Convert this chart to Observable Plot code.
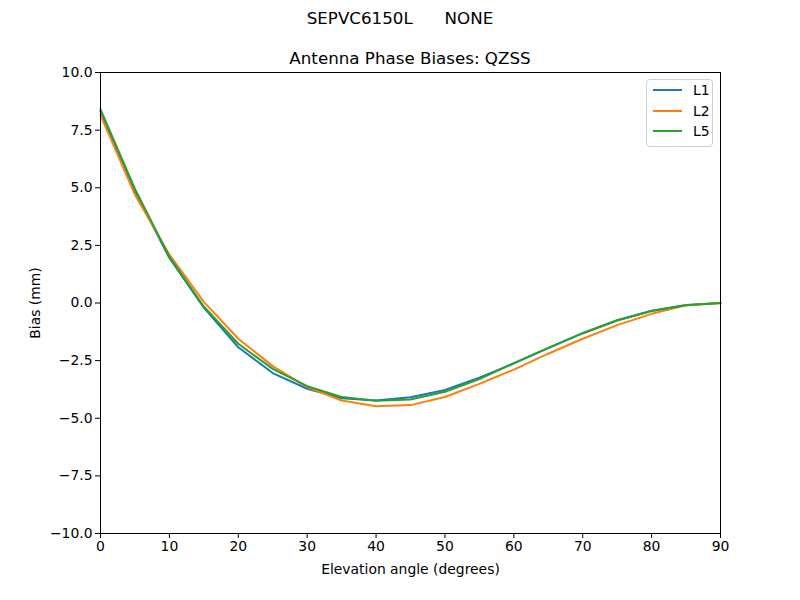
<!DOCTYPE html>
<html>
<head>
<meta charset="utf-8">
<script src="https://cdn.jsdelivr.net/npm/d3@7"></script>
<script src="https://cdn.jsdelivr.net/npm/@observablehq/plot@0.6"></script>
<style>
  body { margin: 0; background: #fff; }
  #wrap { position: relative; width: 800px; height: 600px; font-family: "DejaVu Sans", sans-serif; }
  .t { position: absolute; text-align: center; font-size: 16.7px; color: #000; }
  #legend { position: absolute; left: 646px; top: 79px; width: 65px; height: 66px; border: 1px solid #d0d0d0; border-radius: 4px; background: rgba(255,255,255,0.8); font-size: 13.9px; }
  .li { position: absolute; left: 6px; height: 20px; display: flex; align-items: center; }
  .sw { width: 29px; height: 2px; margin-right: 11px; }
</style>
</head>
<body>
<div id="wrap">
  <div class="t" style="top:8px; left:0; width:800px;">SEPVC6150L&nbsp;&nbsp;&nbsp;&nbsp;&nbsp;&nbsp;NONE</div>
  <div class="t" style="top:48px; left:100px; width:620px;">Antenna Phase Biases: QZSS</div>
  <div id="chart"></div>
  <div id="legend"></div>
</div>
<script>
const elevation = [0,5,10,15,20,25,30,35,40,45,50,55,60,65,70,75,80,85,90];
const L1 = [8.3,4.85,1.95,-0.2,-1.92,-3.04,-3.72,-4.13,-4.23,-4.09,-3.77,-3.24,-2.62,-1.96,-1.31,-0.75,-0.34,-0.09,0];
const L2 = [8.15,4.7,2.1,0.05,-1.55,-2.74,-3.65,-4.23,-4.48,-4.43,-4.08,-3.51,-2.89,-2.2,-1.55,-0.96,-0.47,-0.1,0];
const L5 = [8.4,4.95,2.0,-0.15,-1.77,-2.86,-3.61,-4.08,-4.24,-4.19,-3.85,-3.3,-2.61,-1.95,-1.31,-0.76,-0.35,-0.1,0];
const seriesNames = ["L1","L2","L5"];
const seriesColors = ["#1f77b4","#ff7f0e","#2ca02c"];
const xTicks = [0,10,20,30,40,50,60,70,80,90];
const yTicks = [-10,-7.5,-5,-2.5,0,2.5,5,7.5,10];

const values = [L1, L2, L5];
const rows = [];
seriesNames.forEach((s, i) => elevation.forEach((e, j) => rows.push({series: s, elev: e, bias: values[i][j]})));

const fmt = v => v.toFixed(1).replace("-", "\u2212");

const chart = Plot.plot({
  width: 800,
  height: 600,
  marginTop: 72,
  marginBottom: 67,
  marginLeft: 100,
  marginRight: 80,
  style: {fontFamily: "DejaVu Sans, sans-serif", fontSize: "13.9px", color: "#000", background: "transparent"},
  x: {domain: [0, 90]},
  y: {domain: [-10, 10]},
  color: {domain: seriesNames, range: seriesColors},
  marks: [
    Plot.axisX({ticks: xTicks, tickSize: 5, tickPadding: 3, label: "Elevation angle (degrees)", labelAnchor: "center", labelArrow: "none", labelOffset: 40, stroke: "#000"}),
    Plot.axisY({ticks: yTicks, tickFormat: fmt, tickSize: 5, tickPadding: 3, label: "Bias (mm)", labelAnchor: "center", labelArrow: "none", labelOffset: 70, stroke: "#000"}),
    Plot.line(rows, {x: "elev", y: "bias", z: "series", stroke: "series", strokeWidth: 2}),
    Plot.frame({stroke: "#000", strokeWidth: 1})
  ]
});
document.getElementById("chart").appendChild(chart);

const leg = document.getElementById("legend");
seriesNames.forEach((s, i) => {
  const d = document.createElement("div");
  d.className = "li";
  d.style.top = (0 + i * 20.7) + "px";
  d.innerHTML = `<span class="sw" style="background:${seriesColors[i]}"></span><span>${s}</span>`;
  leg.appendChild(d);
});
</script>
</body>
</html>
